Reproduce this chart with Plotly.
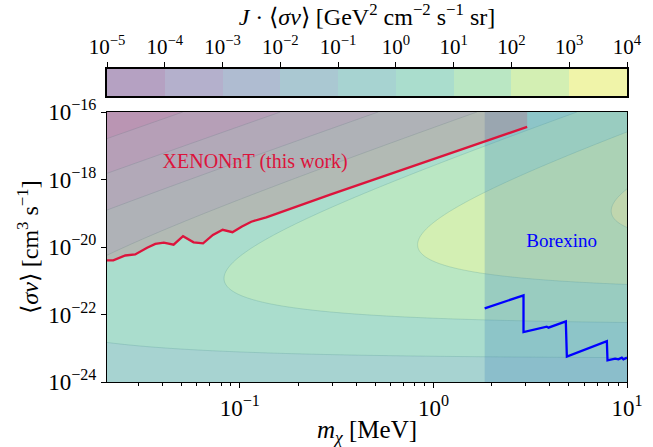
import numpy as np
import plotly.graph_objects as go
from plotly.colors import sample_colorscale

# ---------------- data ----------------
# XENONnT (this work) limit: dark-matter mass [MeV], <sigma v> [cm^3 s^-1]
xenon_m = [0.0200, 0.0222, 0.0256, 0.0288, 0.0332, 0.0366, 0.0405, 0.0455, 0.0509,
           0.0577, 0.0646, 0.0726, 0.0815, 0.0916, 0.1026, 0.1146, 0.137, 0.293, 3.05]
xenon_sv = [4.0e-21, 4.0e-21, 5.6e-21, 6.0e-21, 9.5e-21, 1.23e-20, 1.35e-20, 1.17e-20, 2.09e-20,
            1.38e-20, 1.29e-20, 2.29e-20, 3.24e-20, 2.75e-20, 4.07e-20, 5.62e-20, 7.59e-20,
            3.55e-19, 3.63e-17]

# Borexino limit
borexino_m = [1.84, 2.92, 2.92, 3.85, 3.93, 4.83, 4.89, 5.84, 7.87, 7.93, 8.68, 9.03, 9.40, 9.58, 10.0]
borexino_sv = [1.51e-22, 3.70e-22, 3.02e-23, 4.37e-23, 4.07e-23, 6.25e-23, 5.64e-24, 8.26e-24,
               1.63e-23, 4.39e-24, 4.92e-24, 4.70e-24, 5.27e-24, 4.70e-24, 5.27e-24]

# colour-bar levels (exponents of J*<sigma v>)
cbar_exponents = [-5, -4, -3, -2, -1, 0, 1, 2, 3, 4]
y_tick_exponents = [-24, -22, -20, -18, -16]
x_tick_values = [0.1, 1, 10]
x_tick_labels = ["10<sup>−1</sup>", "10<sup>0</sup>", "10<sup>1</sup>"]

# axis ranges
M_MIN, M_MAX = 0.0206, 10.0
SV_MIN, SV_MAX = 1e-24, 1e-16

# parameters of the J*<sigma v> background map (fitted by eye to the contours)
LOW_OFFSET = 23.3        # low <sigma v>:  log(J sv) ~ log sv + LOW_OFFSET
HIGH_OFFSET = -16.4      # high <sigma v>: log(J sv) ~ -log sv + 2 log m + HIGH_OFFSET
HIGH_MASS_SLOPE = 2.0
SOFTNESS = 0.22

# ---------------- background field ----------------
u = np.linspace(np.log10(M_MIN), np.log10(M_MAX), 260)
v = np.linspace(np.log10(SV_MIN), np.log10(SV_MAX), 260)
U, V = np.meshgrid(u, v)
A = V + LOW_OFFSET
B = -V + HIGH_MASS_SLOPE * U + HIGH_OFFSET
F = -np.log10(10 ** (-SOFTNESS * A) + 10 ** (-SOFTNESS * B)) / SOFTNESS

# discrete viridis colours, blended with white (alpha 0.4)
nb = len(cbar_exponents) - 1
alpha = 0.4
band_cols = []
for k in range(nb):
    c = sample_colorscale("Viridis", [(k + 0.5) / nb], colortype="tuple")[0]
    rgb = [int(round(255 * (alpha * ch + (1 - alpha)))) for ch in c]
    band_cols.append("rgb(%d,%d,%d)" % tuple(rgb))
cs = []
for k in range(nb):
    cs.append([k / nb, band_cols[k]])
    cs.append([(k + 1) / nb, band_cols[k]])

FONT = "Liberation Serif"

fig = go.Figure()

fig.add_trace(go.Contour(
    x=10 ** u, y=10 ** v, z=F,
    zmin=cbar_exponents[0], zmax=cbar_exponents[-1], zauto=False,
    colorscale=cs, showscale=False, hoverinfo="skip",
    contours=dict(start=cbar_exponents[0], end=cbar_exponents[-1], size=1,
                  coloring="fill", showlines=True),
    line=dict(width=0.6, color="rgba(60,130,130,0.35)"),
    xaxis="x", yaxis="y",
))

# Borexino excluded column
bx0 = borexino_m[0]
fig.add_trace(go.Scatter(
    x=[bx0, M_MAX, M_MAX, bx0, bx0], y=[SV_MIN, SV_MIN, SV_MAX, SV_MAX, SV_MIN],
    mode="lines", fill="toself", fillcolor="rgba(70,135,185,0.28)",
    line=dict(width=0), hoverinfo="skip", showlegend=False,
))

# XENONnT excluded region (above line)
fig.add_trace(go.Scatter(
    x=xenon_m + [xenon_m[-1], xenon_m[0], xenon_m[0]],
    y=xenon_sv + [SV_MAX, SV_MAX, xenon_sv[0]],
    mode="lines", fill="toself", fillcolor="rgba(220,20,60,0.17)",
    line=dict(width=0), hoverinfo="skip", showlegend=False,
))

fig.add_trace(go.Scatter(x=xenon_m, y=xenon_sv, mode="lines",
                         line=dict(color="crimson", width=2.3), showlegend=False))
fig.add_trace(go.Scatter(x=borexino_m, y=borexino_sv, mode="lines",
                         line=dict(color="blue", width=2.3), showlegend=False))

fig.add_trace(go.Scatter(x=[0.12], y=[10 ** -17.5], mode="text",
                         text=["XENONnT (this work)"],
                         textfont=dict(family=FONT, size=20, color="crimson"),
                         showlegend=False))
fig.add_trace(go.Scatter(x=[4.6], y=[10 ** -19.87], mode="text",
                         text=["Borexino"],
                         textfont=dict(family=FONT, size=19, color="blue"),
                         showlegend=False))

# colour bar drawn as a one-row heatmap on its own axes
centers = [(cbar_exponents[k] + cbar_exponents[k + 1]) / 2 for k in range(nb)]
fig.add_trace(go.Heatmap(x=centers, y=[0.5], z=[centers],
                         zmin=cbar_exponents[0], zmax=cbar_exponents[-1],
                         colorscale=cs, showscale=False, hoverinfo="skip",
                         xaxis="x2", yaxis="y2"))

minor_vals = []
for dec in [0.01, 0.1, 1]:
    for k in range(2, 10):
        val = k * dec
        if M_MIN < val < M_MAX:
            minor_vals.append(val)

H = 447
plot_top, plot_bot = 112, 382
cb_top, cb_bot = 69, 96
tot = plot_bot - cb_top

fig.update_layout(
    width=653, height=447,
    margin=dict(l=107, r=26, t=cb_top, b=H - plot_bot, autoexpand=False),
    paper_bgcolor="white", plot_bgcolor="white",
    font=dict(family=FONT, color="black"),
    showlegend=False,
    xaxis=dict(type="log", range=[np.log10(M_MIN), np.log10(M_MAX)], anchor="y",
               automargin=False,
               showline=True, mirror=True, linecolor="black", linewidth=1.2,
               ticks="outside", ticklen=5, tickwidth=1, tickcolor="black",
               tickvals=x_tick_values, ticktext=x_tick_labels,
               tickfont=dict(size=23),
               minor=dict(tickvals=minor_vals, ticks="outside", ticklen=3,
                          tickwidth=0.8, tickcolor="black", showgrid=False),
               showgrid=False, zeroline=False,
               title=dict(text="<i>m</i><sub><i>χ</i></sub> [MeV]", font=dict(size=25),
                          standoff=4)),
    yaxis=dict(type="log", range=[np.log10(SV_MIN), np.log10(SV_MAX)], anchor="x",
               automargin=False,
               domain=[0, (plot_bot - plot_top) / tot],
               showline=True, mirror=True, linecolor="black", linewidth=1.2,
               ticks="outside", ticklen=5, tickwidth=1, tickcolor="black",
               tickvals=[10.0 ** e for e in y_tick_exponents],
               ticktext=["10<sup>−%d</sup>" % (-e) for e in y_tick_exponents],
               tickfont=dict(size=23),
               showgrid=False, zeroline=False,
               title=dict(text="⟨<i>σv</i>⟩ [cm<sup>3</sup> s<sup>−1</sup>]", font=dict(size=24),
                          standoff=2)),
    xaxis2=dict(range=[cbar_exponents[0], cbar_exponents[-1]], anchor="y2", side="top",
                automargin=False,
                showline=True, mirror=True, linecolor="black", linewidth=1.5,
                ticks="outside", ticklen=5, tickwidth=1, tickcolor="black",
                tickvals=cbar_exponents,
                ticktext=["10<sup>%s</sup>" % (("−%d" % -e) if e < 0 else str(e)) for e in cbar_exponents],
                tickfont=dict(size=21), showgrid=False, zeroline=False,
                title=dict(text="<i>J</i> · ⟨<i>σv</i>⟩ [GeV<sup>2</sup> cm<sup>−2</sup> s<sup>−1</sup> sr]",
                           font=dict(size=24), standoff=2)),
    yaxis2=dict(range=[0, 1], anchor="x2", domain=[(plot_bot - cb_bot) / tot, 1],
                automargin=False,
                showline=True, mirror=True, linecolor="black", linewidth=1.5,
                showticklabels=False, ticks="", showgrid=False, zeroline=False),
)

fig.write_html("out.html")
